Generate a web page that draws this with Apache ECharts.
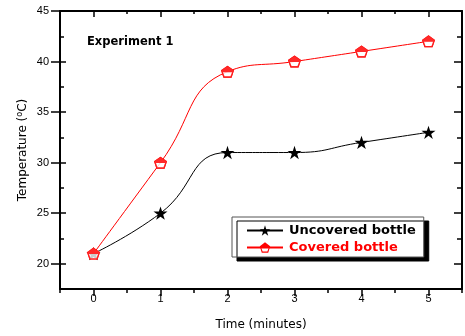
<!DOCTYPE html>
<html>
<head>
<meta charset="utf-8">
<script src="https://cdn.jsdelivr.net/npm/echarts@6/dist/echarts.min.js"></script>
<style>
  html, body { margin: 0; padding: 0; background: #fff; }
  #chart { width: 465px; height: 336px; }
</style>
</head>
<body>
<div id="chart"></div>
<script>
// Temperature readings over time, two bottles
const timeMinutes = [0, 1, 2, 3, 4, 5];
const uncovered = [21, 25, 31, 31, 32, 33];
const covered = [21, 30, 39, 40, 41, 42];
const xMajor = [0, 1, 2, 3, 4, 5];
const xMinor = [-0.5, 0.5, 1.5, 2.5, 3.5, 4.5, 5.5];
const yMajor = [20, 25, 30, 35, 40, 45];
const yMinor = [17.5, 22.5, 27.5, 32.5, 37.5, 42.5];

const FONT = '"Liberation Sans", Arial, sans-serif';
const WIDE = '"DejaVu Sans", sans-serif';
const STAR = 'path://M50 0 L61.2 34.6 L97.6 34.5 L68.1 55.9 L79.4 90.5 L50 69 L20.6 90.5 L31.9 55.9 L2.4 34.5 L38.8 34.6 Z';
// pentagon with filled top half and open lower half
const HALF_PENT = 'path://M50 0 L100 38 L81 100 L19 100 L0 38 Z M15 54 L27 88 L73 88 L85 54 Z';
const FULL_PENT = 'path://M50 0 L100 38 L81 100 L19 100 L0 38 Z';

const pairs = (ys) => timeMinutes.map((t, i) => [t, ys[i]]);

const hiddenLine = { show: false, onZero: false };
const frame = { show: true, onZero: false, lineStyle: { color: '#000', width: 2 } };

function xAx(opt) {
  return Object.assign({
    type: 'value', min: -0.5, max: 5.5, gridIndex: 0,
    splitLine: { show: false },
    axisLine: hiddenLine,
    axisLabel: { show: false },
    axisTick: { show: false }
  }, opt);
}
function yAx(opt) {
  return Object.assign({
    type: 'value', min: 17.5, max: 45, gridIndex: 0,
    splitLine: { show: false },
    axisLine: hiddenLine,
    axisLabel: { show: false },
    axisTick: { show: false }
  }, opt);
}
const tick = (vals, len, inside) => ({
  show: true, customValues: vals, length: len, inside: inside,
  lineStyle: { color: '#000', width: 1.5 }
});

const chart = echarts.init(document.getElementById('chart'));
chart.setOption({
  animation: false,
  backgroundColor: '#fff',
  grid: { left: 60, right: 3, top: 11, bottom: 47 },
  xAxis: [
    xAx({
      position: 'bottom', axisLine: frame,
      axisTick: tick(xMajor, 7, false),
      axisLabel: {
        show: true, customValues: xMajor, margin: 4,
        color: '#000', fontFamily: FONT, fontSize: 11
      },
      name: 'Time (minutes)', nameLocation: 'middle', nameGap: 30,
      nameMoveOverlap: false,
      nameTextStyle: { color: '#000', fontFamily: WIDE, fontSize: 12 }
    }),
    xAx({ position: 'bottom', axisTick: tick(xMinor, 4, false) }),
    xAx({ position: 'top', axisLine: frame, axisTick: tick(xMajor, 6, true) }),
    xAx({ position: 'top', axisTick: tick(xMinor, 3, true) })
  ],
  yAxis: [
    yAx({
      position: 'left', axisLine: frame,
      axisTick: tick(yMajor, 9, false),
      axisLabel: {
        show: true, customValues: yMajor, margin: 11,
        color: '#000', fontFamily: FONT, fontSize: 11
      },
      name: '{n|Temperature (}{s|o}{n|C)}', nameLocation: 'middle', nameGap: 30,
      nameMoveOverlap: false,
      nameTextStyle: {
        rich: {
          n: { color: '#000', fontFamily: WIDE, fontSize: 12 },
          s: { color: '#000', fontFamily: WIDE, fontSize: 8, verticalAlign: 'top', padding: [0, 0, 6, 0] }
        }
      }
    }),
    yAx({ position: 'left', axisTick: tick(yMajor, 6, true) }),
    yAx({ position: 'left', axisTick: tick(yMinor, 4, true) }),
    yAx({ position: 'right', axisLine: frame, axisTick: tick(yMajor, 8, true) }),
    yAx({ position: 'right', axisTick: tick(yMinor, 5, true) })
  ],
  legend: {
    left: 232, top: 217, orient: 'vertical',
    padding: [7, 8, 3, 14],
    itemWidth: 36, itemHeight: 13, itemGap: 4,
    backgroundColor: '#fff',
    borderColor: '#555', borderWidth: 1, borderRadius: 0,
    shadowColor: '#000', shadowBlur: 0, shadowOffsetX: 5, shadowOffsetY: 4,
    textStyle: { fontFamily: WIDE, fontSize: 13, fontWeight: 'bold', padding: [0, 0, 0, 1] },
    data: [
      { name: 'Uncovered bottle', textStyle: { color: '#000' } },
      { name: 'Covered bottle', textStyle: { color: '#ff0000' } }
    ]
  },
  graphic: [{
    type: 'text', left: 87, top: 36,
    style: { text: 'Experiment 1', fontFamily: WIDE, fontSize: 11.5, fontWeight: 'bold', fill: '#000' }
  }],
  series: [
    {
      name: 'Uncovered bottle', type: 'line', data: pairs(uncovered),
      xAxisIndex: 0, yAxisIndex: 0, smooth: 0.5, z: 2,
      symbol: STAR, symbolSize: 14, symbolKeepAspect: true,
      lineStyle: { color: '#000', width: 1 },
      itemStyle: { color: '#000' }
    },
    {
      name: 'Covered bottle', type: 'line', data: pairs(covered),
      xAxisIndex: 0, yAxisIndex: 0, smooth: 0.5, z: 3,
      symbol: HALF_PENT, symbolSize: [13, 12],
      lineStyle: { color: '#ff0000', width: 1 },
      itemStyle: { color: '#ff0000' }
    },
    {
      // white backing so the open half of each pentagon hides the curve
      type: 'scatter', data: pairs(covered), xAxisIndex: 0, yAxisIndex: 0, z: 4,
      symbol: FULL_PENT, symbolSize: [12, 11],
      itemStyle: { color: '#fff' }, silent: true
    },
    {
      type: 'scatter', data: pairs(covered), xAxisIndex: 0, yAxisIndex: 0, z: 5,
      symbol: HALF_PENT, symbolSize: [13, 12],
      itemStyle: { color: '#ff0000' }, silent: true
    }
  ]
});
</script>
</body>
</html>
